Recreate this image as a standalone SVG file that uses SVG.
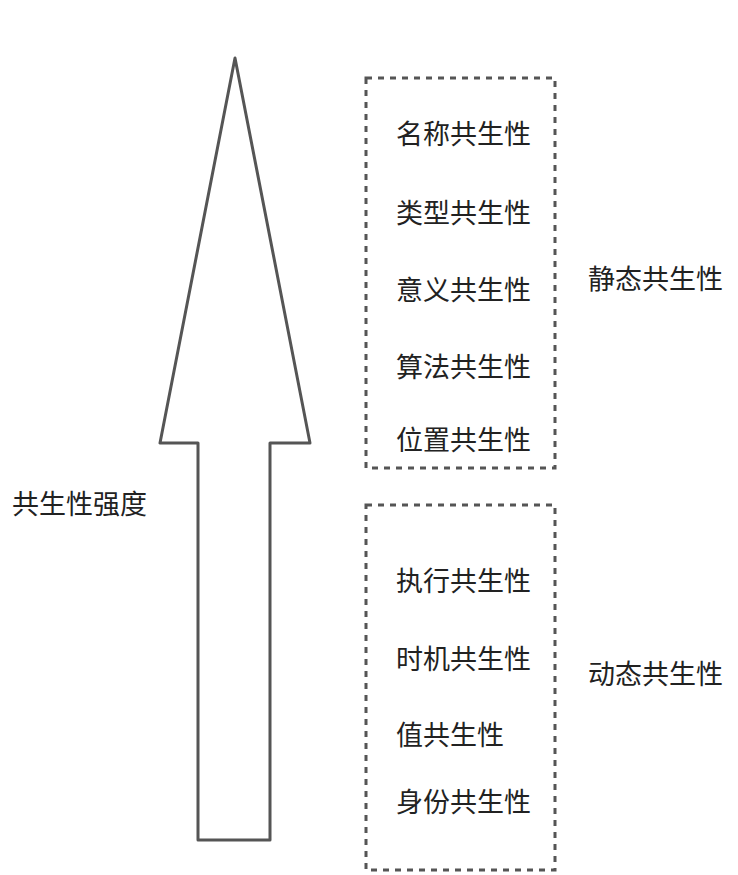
<svg xmlns="http://www.w3.org/2000/svg" width="738" height="875" viewBox="0 0 738 875">
<style>
text{font-family:"Noto Sans CJK SC","Noto Sans",sans-serif;font-size:27px;fill:#222}
.box{fill:none;stroke:#555;stroke-width:3;stroke-dasharray:6 6}
</style>
<rect width="738" height="875" fill="#fff"/>
<g id="arrow"><polygon points="235,58 160,443 198,443 198,840 270,840 270,443 310,443" fill="none" stroke="#555" stroke-width="3" stroke-linejoin="round"/></g>
<g id="static"><rect class="box" x="366" y="78" width="189" height="390"/>
<text x="396" y="144">名称共生性</text><text x="396" y="223">类型共生性</text><text x="396" y="300">意义共生性</text><text x="396" y="377">算法共生性</text><text x="396" y="450">位置共生性</text></g>
<g id="dynamic"><rect class="box" x="366" y="505" width="189" height="365"/>
<text x="396" y="591">执行共生性</text><text x="396" y="669">时机共生性</text><text x="396" y="745">值共生性</text><text x="396" y="812">身份共生性</text></g>
<g id="labels"><text x="588" y="289">静态共生性</text><text x="588" y="684">动态共生性</text><text x="12" y="514">共生性强度</text></g>
<g id="connectors"/>
</svg>
